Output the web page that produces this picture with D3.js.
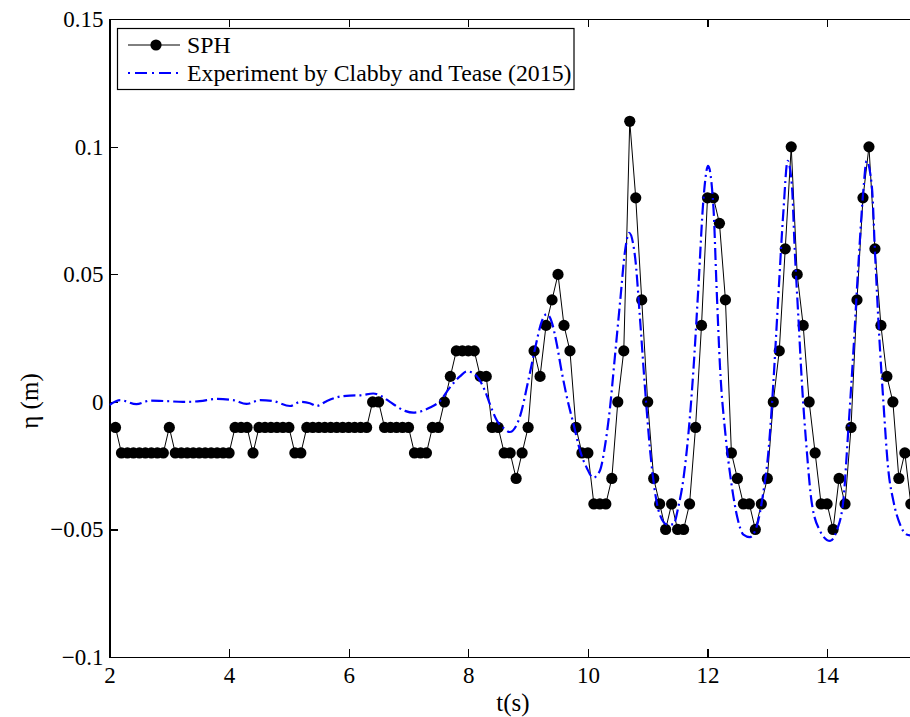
<!DOCTYPE html>
<meta charset="utf-8">
<style>
  body { margin: 0; background: #fff; }
  svg { display: block; }
  .axis path, .axis line { stroke: #000; stroke-width: 1.2px; shape-rendering: crispEdges; }
</style>
<body>
<script src="https://cdn.jsdelivr.net/npm/d3@7"></script>
<script>
  'use strict';

  // SPH free-surface elevation, one sample every 0.1 s starting at t = 2.1 s
  const sphStart = 2.1, sphStep = 0.1;
  const sphEta = [
    -0.01, -0.02, -0.02, -0.02, -0.02, -0.02, -0.02, -0.02, -0.02,          // 2.1 - 2.9
    -0.01, -0.02, -0.02, -0.02, -0.02, -0.02, -0.02, -0.02, -0.02, -0.02,   // 3.0 - 3.9
    -0.02, -0.01, -0.01, -0.01, -0.02, -0.01, -0.01, -0.01, -0.01, -0.01,   // 4.0 - 4.9
    -0.01, -0.02, -0.02, -0.01, -0.01, -0.01, -0.01, -0.01, -0.01, -0.01,   // 5.0 - 5.9
    -0.01, -0.01, -0.01, -0.01,  0.00,  0.00, -0.01, -0.01, -0.01, -0.01,   // 6.0 - 6.9
    -0.01, -0.02, -0.02, -0.02, -0.01, -0.01,  0.00,  0.01,  0.02,  0.02,   // 7.0 - 7.9
     0.02,  0.02,  0.01,  0.01, -0.01, -0.01, -0.02, -0.02, -0.03, -0.02,   // 8.0 - 8.9
    -0.01,  0.02,  0.01,  0.03,  0.04,  0.05,  0.03,  0.02, -0.01, -0.02,   // 9.0 - 9.9
    -0.02, -0.04, -0.04, -0.04, -0.03,  0.00,  0.02,  0.11,  0.08,  0.04,   // 10.0 - 10.9
     0.00, -0.03, -0.04, -0.05, -0.04, -0.05, -0.05, -0.04, -0.01,  0.03,   // 11.0 - 11.9
     0.08,  0.08,  0.07,  0.04, -0.02, -0.03, -0.04, -0.04, -0.05, -0.04,   // 12.0 - 12.9
    -0.03,  0.00,  0.02,  0.06,  0.10,  0.05,  0.03,  0.00, -0.02, -0.04,   // 13.0 - 13.9
    -0.04, -0.05, -0.03, -0.04, -0.01,  0.04,  0.08,  0.10,  0.06,  0.03,   // 14.0 - 14.9
     0.01,  0.00, -0.03, -0.02, -0.04                                       // 15.0 - 15.4
  ];

  // experiment (Clabby and Tease 2015)
  const expTime = [
    2.0, 2.18, 2.45, 2.68, 2.96, 3.23, 3.51, 3.79, 4.07, 4.29, 4.52, 4.74, 5.02, 5.19, 5.35, 5.46,
    5.63, 5.80, 6.02, 6.2, 6.41, 6.55, 6.69, 6.94, 7.08, 7.36, 7.53, 7.69, 7.86, 7.98, 8.11, 8.28,
    8.36, 8.48, 8.61, 8.69, 8.86, 9.0, 9.12, 9.23, 9.31, 9.39, 9.48, 9.56, 9.65, 9.76, 9.87, 9.98,
    10.09, 10.2, 10.29, 10.37, 10.45, 10.54, 10.62, 10.69, 10.79, 10.87, 10.95, 11.04, 11.12, 11.2,
    11.32, 11.43, 11.51, 11.6, 11.68, 11.76, 11.85, 11.93, 12.01, 12.1, 12.15, 12.21, 12.3, 12.4,
    12.5, 12.6, 12.71, 12.82, 12.93, 13.02, 13.1, 13.18, 13.27, 13.34, 13.41, 13.46, 13.52, 13.58,
    13.66, 13.74, 13.88, 14.05, 14.16, 14.27, 14.35, 14.44, 14.52, 14.61, 14.66, 14.75, 14.8, 14.87,
    14.94, 15.02, 15.11, 15.22, 15.33, 15.45
  ];
  const expEta = [
    -0.0012, 0.0007, -0.0009, 0.0005, 0.0003, 0.0, 0.0003, 0.0012, 0.0007, -0.0008, 0.0007, 0.0003, -0.0016, 0.0, -0.0005, -0.0016,
    0.0003, 0.0018, 0.0025, 0.0026, 0.0033, 0.0022, 0.0, -0.0035, -0.0042, -0.0022, 0.0004, 0.0056, 0.0100, 0.0120, 0.0108, 0.0043,
    -0.0008, -0.0074, -0.0106, -0.0118, -0.0060, 0.0080, 0.0213, 0.0317, 0.0344, 0.0317, 0.0226, 0.0121, 0.0017, -0.0087, -0.0192, -0.0258,
    -0.0297, -0.0270, -0.0166, -0.0022, 0.0174, 0.0396, 0.0590, 0.0663, 0.0566, 0.0330, 0.0070, -0.0190, -0.0350, -0.0440,
    -0.0480, -0.0480, -0.0414, -0.0297, -0.0127, 0.0110, 0.0460, 0.0788, 0.0925, 0.0760, 0.0460, 0.0134, -0.0127, -0.0320,
    -0.0454, -0.0520, -0.0530, -0.0490, -0.0360, -0.0192, 0.0070, 0.0396, 0.0750, 0.0945, 0.0853, 0.0590, 0.0330, 0.0070,
    -0.0190, -0.0390, -0.0505, -0.0545, -0.0505, -0.0390, -0.0127, 0.0200, 0.0526, 0.0840, 0.0945, 0.0840, 0.0590, 0.0266,
    0.0004, -0.0258, -0.0390, -0.0480, -0.0520, -0.0525
  ];

  const xTicks = [2, 4, 6, 8, 10, 12, 14];
  const yTicks = [-0.1, -0.05, 0, 0.05, 0.1, 0.15];
  const legendLabels = ["SPH", "Experiment by Clabby and Tease (2015)"];

  const serif = '"Liberation Serif", "Times New Roman", serif';
  const width = 910, height = 717;
  const plot = {left: 109.5, top: 19.3, bottom: 657};

  const x = d3.scaleLinear().domain([2, 15.5]).range([plot.left, plot.left + 13.5 * 59.8]);
  const y = d3.scaleLinear().domain([-0.1, 0.15]).range([plot.bottom, plot.top]);

  const svg = d3.select("body").append("svg")
      .attr("width", width)
      .attr("height", height)
      .style("font-family", serif);

  svg.append("defs").append("clipPath").attr("id", "clip")
    .append("rect")
      .attr("x", plot.left).attr("y", plot.top)
      .attr("width", width - plot.left).attr("height", plot.bottom - plot.top);

  const fmt = (v) => v === 0 ? "0" : (v < 0 ? "\u2212" : "") + String(+Math.abs(v).toFixed(2));

  // strip d3's own font settings so the serif face is used
  const tidy = (g) => {
    g.attr("font-family", null).attr("font-size", null);
    g.selectAll("text").style("font-family", serif).style("font-size", "23px").attr("fill", "#000");
  };

  // axes, MATLAB style: ticks pointing inward
  svg.append("g").attr("class", "axis")
      .attr("transform", `translate(0,${plot.bottom})`)
      .call(d3.axisBottom(x).tickValues(xTicks).tickSizeInner(-8).tickSizeOuter(0).tickPadding(10).tickFormat(d3.format("d")))
      .call(tidy);

  svg.append("g").attr("class", "axis")
      .attr("transform", `translate(0,${plot.top})`)
      .call(d3.axisTop(x).tickValues(xTicks).tickSizeInner(-8).tickSizeOuter(0).tickFormat(""))
      .call(tidy);

  svg.append("g").attr("class", "axis")
      .attr("transform", `translate(${plot.left},0)`)
      .call(d3.axisLeft(y).tickValues(yTicks).tickSizeInner(-8).tickSizeOuter(0).tickPadding(6).tickFormat(fmt))
      .call(tidy);

  // axis labels
  svg.append("text")
      .attr("x", 513).attr("y", 711)
      .attr("text-anchor", "middle")
      .style("font-size", "25px")
      .text("t(s)");

  svg.append("text")
      .attr("transform", "translate(38,401) rotate(-90)")
      .attr("text-anchor", "middle")
      .style("font-size", "25px")
      .text("\u03b7 (m)");

  // series
  const sph = sphEta.map((v, i) => ({t: sphStart + i * sphStep, v: v}));
  const exp = expTime.map((t, i) => ({t: t, v: expEta[i]}));

  const g = svg.append("g").attr("clip-path", "url(#clip)");

  g.append("path")
      .datum(sph)
      .attr("fill", "none")
      .attr("stroke", "#000")
      .attr("stroke-width", 1)
      .attr("d", d3.line().x((d) => x(d.t)).y((d) => y(d.v)));

  g.selectAll(".dot")
      .data(sph)
      .enter().append("circle")
      .attr("class", "dot")
      .attr("cx", (d) => x(d.t))
      .attr("cy", (d) => y(d.v))
      .attr("r", 5.6)
      .attr("fill", "#000");

  g.append("path")
      .datum(exp)
      .attr("fill", "none")
      .attr("stroke", "#0000ff")
      .attr("stroke-width", 2.2)
      .attr("stroke-dasharray", "12,4,2,4")
      .attr("d", d3.line().curve(d3.curveMonotoneX).x((d) => x(d.t)).y((d) => y(d.v)));

  // legend
  const leg = svg.append("g");
  leg.append("rect")
      .attr("x", 117.5).attr("y", 28.5)
      .attr("width", 456.5).attr("height", 61)
      .attr("fill", "#fff")
      .attr("stroke", "#000")
      .attr("stroke-width", 1.2);

  leg.append("line")
      .attr("x1", 128).attr("x2", 180).attr("y1", 45).attr("y2", 45)
      .attr("stroke", "#000").attr("stroke-width", 1);
  leg.append("circle")
      .attr("cx", 156).attr("cy", 45).attr("r", 5.6).attr("fill", "#000");
  leg.append("line")
      .attr("x1", 128).attr("x2", 180).attr("y1", 73).attr("y2", 73)
      .attr("stroke", "#0000ff").attr("stroke-width", 2.2)
      .attr("stroke-dasharray", "2,5,12,5");

  leg.selectAll(".lab")
      .data(legendLabels)
      .enter().append("text")
      .attr("x", 187)
      .attr("y", (d, i) => 53 + i * 28)
      .style("font-size", "23.8px")
      .text((d) => d);
</script>
</body>
